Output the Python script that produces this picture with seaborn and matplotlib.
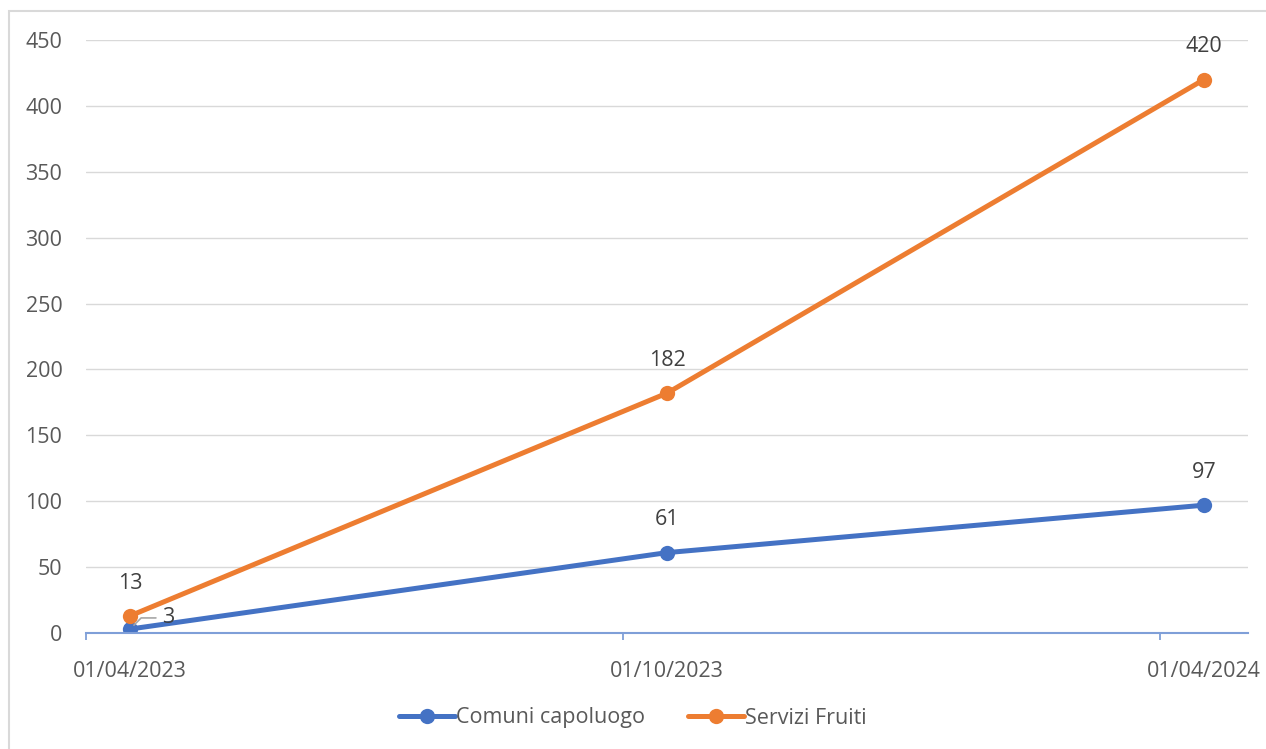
"""Line chart: Comuni capoluogo vs Servizi Fruiti."""

import matplotlib

matplotlib.use("Agg")
import matplotlib.pyplot as plt
import pandas as pd
import seaborn as sns
from matplotlib.patches import Rectangle

dates = ["01/04/2023", "01/10/2023", "01/04/2024"]
comuni = [3, 61, 97]
servizi = [13, 182, 420]
series_names = ["Comuni capoluogo", "Servizi Fruiti"]
y_ticks = [0, 50, 100, 150, 200, 250, 300, 350, 400, 450]

df = pd.DataFrame(
    {
        "pos": list(range(len(dates))) * 2,
        "value": comuni + servizi,
        "serie": [series_names[0]] * len(dates) + [series_names[1]] * len(dates),
    }
)

sns.set_theme(style="white")
plt.rcParams["font.family"] = ["Open Sans", "DejaVu Sans"]

palette = {series_names[0]: "#4472C4", series_names[1]: "#ED7D31"}
text_col = "#595959"
fs = 15.5

fig = plt.figure(figsize=(12.66, 7.49), dpi=100)
ax = fig.add_axes([86 / 1266, 1 - 633 / 749, (1248 - 86) / 1266, (633 - 40) / 749])

sns.lineplot(
    data=df,
    x="pos",
    y="value",
    hue="serie",
    palette=palette,
    marker="o",
    markersize=11,
    markeredgewidth=0,
    linewidth=3.6,
    ax=ax,
    legend=True,
)

ax.set_ylim(0, 450)
ax.set_xlim(-0.082, 2.082)
ax.set_yticks(y_ticks)
ax.set_xticks(range(len(dates)))
ax.set_xticklabels(dates)
ax.set_xticks([-0.082 + k for k in range(3)], minor=True)
ax.tick_params(axis="x", which="major", bottom=False, pad=14, labelsize=fs, labelcolor=text_col)
ax.tick_params(axis="x", which="minor", bottom=True, length=5, width=1.3,
               color="#7F9FD8", direction="out")
ax.tick_params(axis="y", length=0, pad=17, labelsize=fs, labelcolor=text_col)
ax.grid(axis="y", color="#D9D9D9", linewidth=1)
ax.set_axisbelow(True)
for side in ["top", "right", "left"]:
    ax.spines[side].set_visible(False)
ax.spines["bottom"].set_color("#7F9FD8")
ax.spines["bottom"].set_linewidth(1.5)
ax.set_xlabel("")
ax.set_ylabel("")

# data labels
for i, v in enumerate(servizi):
    ax.annotate(str(v), (i, v), xytext=(0, 23.5), textcoords="offset points",
                ha="center", va="center", fontsize=fs, color="#404040")
for i, v in enumerate(comuni):
    if i == 0:
        ax.annotate(str(v), (i, v), xytext=(23, 8), textcoords="offset points",
                    ha="left", va="center", fontsize=fs, color="#404040",
                    arrowprops=dict(arrowstyle="-", color="#A6A6A6", lw=1.2,
                                    connectionstyle="angle,angleA=0,angleB=45,rad=0",
                                    shrinkA=2, shrinkB=4))
    else:
        ax.annotate(str(v), (i, v), xytext=(0, 23.5), textcoords="offset points",
                    ha="center", va="center", fontsize=fs, color="#404040")

handles, labels = ax.get_legend_handles_labels()
ax.get_legend().remove()
fig.legend(handles, labels, loc="center", bbox_to_anchor=(0.5, 1 - 718 / 749), ncol=2,
           frameon=False, fontsize=fs, labelcolor=text_col, handlelength=2.6,
           handletextpad=0.05, columnspacing=2.0)

fig.patches.append(Rectangle((9 / 1266, -0.01), 1.1, 1 - 11 / 749 + 0.01,
                             transform=fig.transFigure, fill=False,
                             edgecolor="#D9D9D9", linewidth=1.5))

fig.savefig("out.png", dpi=100)
